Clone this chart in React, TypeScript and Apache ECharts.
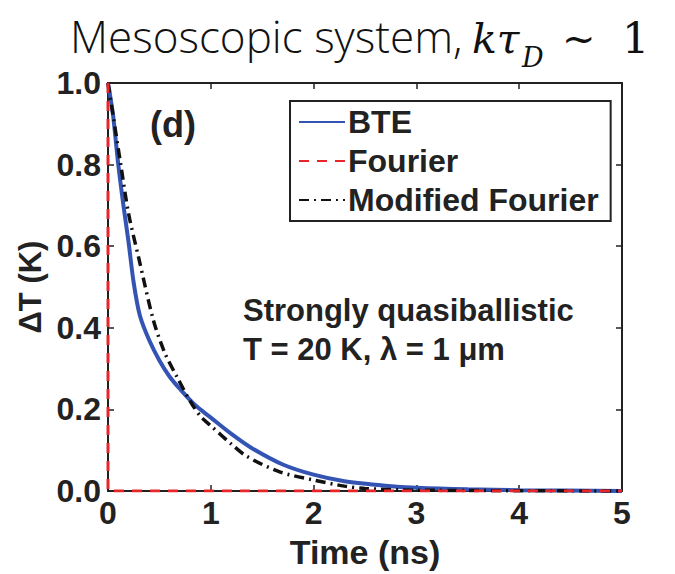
import React, { useEffect, useRef } from "react";
import * as echarts from "echarts";

const timeNs = [0, 0.02, 0.05, 0.1, 0.15, 0.2, 0.25, 0.31, 0.4, 0.5, 0.6, 0.7, 0.85, 1.0, 1.2, 1.4, 1.7, 2.0, 2.3, 2.7, 3.0, 3.5, 4.0, 5.0];
const bteValues = [1.0, 0.97, 0.92, 0.8, 0.7, 0.61, 0.51, 0.43, 0.37, 0.32, 0.28, 0.25, 0.21, 0.18, 0.14, 0.105, 0.065, 0.04, 0.024, 0.013, 0.008, 0.004, 0.002, 0.0];

const modTime = [0, 0.05, 0.124, 0.2, 0.3, 0.44, 0.55, 0.67, 0.8, 0.9, 1.0, 1.2, 1.35, 1.67, 2.0, 2.3, 2.5, 3.0, 5.0];
const modValues = [1.0, 0.92, 0.8, 0.68, 0.57, 0.42, 0.34, 0.28, 0.22, 0.183, 0.16, 0.115, 0.085, 0.047, 0.027, 0.012, 0.006, 0.002, 0.0];

const fourierTime = [0, 0, 5];
const fourierValues = [1.0, 0.0, 0.0];

const seriesNames = ["BTE", "Fourier", "Modified Fourier"];
const xTicks = [0, 1, 2, 3, 4, 5];
const yTicks = [0, 0.2, 0.4, 0.6, 0.8, 1.0];

const zip = (xs: number[], ys: number[]) => xs.map((x, i) => [x, ys[i]]);

const BOLD = "Liberation Sans";

export default function App() {
  const ref = useRef<HTMLDivElement>(null);
  useEffect(() => {
    if (!ref.current) return;
    const chart = echarts.init(ref.current, null, { renderer: "svg" });
    const axisCommon = {
      type: "value" as const,
      splitLine: { show: false },
      axisLine: { show: true, onZero: false, lineStyle: { color: "#222", width: 2 } },
      axisTick: { show: true, inside: true, length: 6, lineStyle: { color: "#222", width: 1.5 } },
    };
    chart.setOption({
      animation: false,
      backgroundColor: "#fff",
      grid: { left: 108, right: 53, top: 83, bottom: 70 },
      xAxis: [
        {
          ...axisCommon,
          min: xTicks[0],
          max: xTicks[xTicks.length - 1],
          interval: 1,
          name: "Time (ns)",
          nameLocation: "middle",
          nameGap: 44,
          nameTextStyle: { fontFamily: BOLD, fontWeight: "bold", fontSize: 34, color: "#222" },
          axisLabel: { margin: 6, fontFamily: BOLD, fontWeight: "bold", fontSize: 32, color: "#222" },
        },
        {
          ...axisCommon,
          position: "top",
          min: xTicks[0],
          max: xTicks[xTicks.length - 1],
          interval: 1,
          axisLabel: { show: false },
        },
      ],
      yAxis: [
        {
          ...axisCommon,
          min: yTicks[0],
          max: yTicks[yTicks.length - 1],
          interval: 0.2,
          name: "ΔT (K)",
          nameLocation: "middle",
          nameRotate: 90,
          nameGap: 58,
          nameTextStyle: { fontFamily: BOLD, fontWeight: "bold", fontSize: 31, color: "#222" },
          axisLabel: {
            margin: 7,
            fontFamily: BOLD,
            fontWeight: "bold",
            fontSize: 32,
            color: "#222",
            formatter: (v: number) => v.toFixed(1),
          },
        },
        {
          ...axisCommon,
          position: "right",
          min: yTicks[0],
          max: yTicks[yTicks.length - 1],
          interval: 0.2,
          axisLabel: { show: false },
        },
      ],
      legend: {
        orient: "vertical",
        left: 290,
        top: 101,
        itemWidth: 46,
        itemHeight: 14,
        itemGap: 7,
        padding: [5, 12, 5, 8],
        borderColor: "#222",
        borderWidth: 2,
        backgroundColor: "#fff",
        data: seriesNames,
        itemStyle: { opacity: 0 },
        textStyle: { fontFamily: BOLD, fontWeight: "bold", fontSize: 32, color: "#222", padding: [0, 0, 0, -2] },
      },
      series: [
        {
          name: seriesNames[0],
          type: "line",
          data: zip(timeNs, bteValues),
          symbol: "none",
          smooth: 0.3,
          z: 2,
          lineStyle: { color: "#3454b4", width: 4 },
          itemStyle: { color: "#3454b4" },
        },
        {
          name: seriesNames[1],
          type: "line",
          data: zip(fourierTime, fourierValues),
          symbol: "none",
          z: 4,
          lineStyle: { color: "#e8262a", width: 3, type: [10, 8] },
          itemStyle: { color: "#e8262a" },
        },
        {
          name: seriesNames[2],
          type: "line",
          data: zip(modTime, modValues),
          symbol: "none",
          smooth: 0.3,
          z: 3,
          lineStyle: { color: "#111", width: 3.5, type: [10, 5, 2, 5] },
          itemStyle: { color: "#111" },
        },
      ],
      graphic: [
        {
          type: "text",
          left: 70,
          top: 14,
          style: { text: "Mesoscopic system,", font: "300 44px 'Open Sans'", fill: "#111" },
        },
        {
          type: "text",
          left: 472,
          top: 18,
          style: { text: "kτ", font: "italic 41px 'DejaVu Serif'", fill: "#111" },
        },
        {
          type: "text",
          left: 522,
          top: 44,
          style: { text: "D", font: "italic 27px 'DejaVu Serif'", fill: "#111" },
        },
        {
          type: "text",
          left: 562,
          top: 18,
          style: { text: "~", font: "40px 'DejaVu Serif'", fill: "#111" },
        },
        {
          type: "text",
          left: 622,
          top: 16,
          style: { text: "1", font: "43px 'DejaVu Serif'", fill: "#111" },
        },
        {
          type: "text",
          left: 150,
          top: 106,
          style: { text: "(d)", font: `bold 36px '${BOLD}'`, fill: "#222" },
        },
        {
          type: "text",
          left: 243,
          top: 295,
          style: { text: "Strongly quasiballistic", font: `bold 31px '${BOLD}'`, fill: "#222" },
        },
        {
          type: "text",
          left: 243,
          top: 334,
          style: { text: "T = 20 K, λ = 1 μm", font: `bold 31px '${BOLD}'`, fill: "#222" },
        },
      ],
    });
    return () => chart.dispose();
  }, []);
  return <div ref={ref} style={{ width: 675, height: 574, position: "absolute", left: 0, top: 0 }} />;
}
